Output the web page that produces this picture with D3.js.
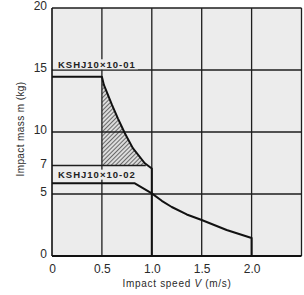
<!DOCTYPE html>
<html>
<head>
<meta charset="utf-8">
<script src="https://cdn.jsdelivr.net/npm/d3@7"></script>
<style>
  body { margin: 0; background: #fff; }
  svg text { font-family: "Liberation Sans", Arial, sans-serif; }
</style>
</head>
<body>
<div id="chart"></div>
<script>
// Data
var xTicks = [0, 0.5, 1.0, 1.5, 2.0];
var xTickLabels = ['0', '0.5', '1.0', '1.5', '2.0'];
var yTicks = [0, 5, 7.3, 10, 15, 20];
var yTickLabels = ['0', '5', '7', '10', '15', '20'];
var xGrid = [0.5, 1.0, 1.5, 2.0, 2.5];
var yGrid = [5, 10, 15, 20];

// KSHJ10x10-01 : speed (m/s), mass (kg)
var speed01 = [0, 0.5, 0.52, 0.6, 0.66, 0.73, 0.81, 0.93, 1.0, 1.0];
var mass01  = [14.46, 14.46, 13.8, 12.2, 11.1, 9.9, 8.7, 7.48, 7.05, 0];
// KSHJ10x10-02
var speed02 = [0, 0.83, 1.0, 1.1, 1.2, 1.35, 1.5, 1.75, 2.0, 2.0];
var mass02  = [5.86, 5.86, 5.05, 4.45, 3.95, 3.35, 2.9, 2.1, 1.45, 0];

var hatchFloor = 7.3;   // lower edge of the shaded area ("7" line)
var labels = ['KSHJ10\u00d710-01', 'KSHJ10\u00d710-02'];
var labelMass = [15.3, 6.4];

var width = 304, height = 295;
var margin = {left: 52, right: 2.5, top: 8, bottom: 39};

var svg = d3.select('#chart').append('svg')
  .attr('width', width).attr('height', height);

var x = d3.scaleLinear().domain([0, 2.5]).range([margin.left, width - margin.right]);
var y = d3.scaleLinear().domain([0, 20]).range([height - margin.bottom, margin.top]);

var gridColor = '#1e1e1e';
var bg = '#ececec';

//Plot background
svg.append('rect')
  .attr('x', x(0)).attr('y', y(20))
  .attr('width', x(2.5) - x(0)).attr('height', y(0) - y(20))
  .attr('fill', bg);

//Hatch pattern
var defs = svg.append('defs');
var pat = defs.append('pattern').attr('id', 'hatch')
  .attr('patternUnits', 'userSpaceOnUse')
  .attr('width', 3).attr('height', 3)
  .attr('patternTransform', 'rotate(45)');
pat.append('rect').attr('width', 3).attr('height', 3).attr('fill', '#dcdcdc');
pat.append('line').attr('x1', 0).attr('y1', 0).attr('x2', 0).attr('y2', 3)
  .attr('stroke', '#2a2a2a').attr('stroke-width', 1.3);

var curve01 = speed01.map(function(s, i){ return {v: s, m: mass01[i]}; });
var curve02 = speed02.map(function(s, i){ return {v: s, m: mass02[i]}; });

var hatchPts = curve01.filter(function(d){ return d.v >= 0.5 && d.v < 1.0; });
var area = d3.area()
  .x(function(d){ return x(d.v); })
  .y0(y(hatchFloor))
  .y1(function(d){ return y(Math.max(d.m, hatchFloor)); });
svg.append('path').datum(hatchPts).attr('d', area).attr('fill', 'url(#hatch)');

//Grid
svg.selectAll('.vgrid').data(xGrid).enter().append('line')
  .attr('x1', function(d){ return x(d); }).attr('x2', function(d){ return x(d); })
  .attr('y1', y(0)).attr('y2', y(20))
  .attr('stroke', gridColor).attr('stroke-width', 1.3);
svg.selectAll('.hgrid').data(yGrid).enter().append('line')
  .attr('x1', x(0)).attr('x2', x(2.5))
  .attr('y1', function(d){ return y(d); }).attr('y2', function(d){ return y(d); })
  .attr('stroke', gridColor).attr('stroke-width', 1.3);
//"7" line
svg.append('line')
  .attr('x1', x(0)).attr('x2', x(0.94))
  .attr('y1', y(hatchFloor)).attr('y2', y(hatchFloor))
  .attr('stroke', gridColor).attr('stroke-width', 1.3);

//Axes lines
svg.append('line').attr('x1', x(0)).attr('x2', x(0)).attr('y1', y(0)).attr('y2', y(20))
  .attr('stroke', '#111').attr('stroke-width', 1.6);
svg.append('line').attr('x1', x(0)).attr('x2', x(2.5)).attr('y1', y(0)).attr('y2', y(0))
  .attr('stroke', '#111').attr('stroke-width', 2);

//Curves
var line = d3.line().x(function(d){ return x(d.v); }).y(function(d){ return y(d.m); });
[curve01, curve02].forEach(function(c){
  svg.append('path').datum(c).attr('d', line)
    .attr('fill', 'none').attr('stroke', '#111').attr('stroke-width', 2)
    .attr('stroke-linejoin', 'round');
});

//Series labels
labels.forEach(function(t, i){
  var ty = y(labelMass[i]);
  svg.append('rect').attr('x', x(0) + 1).attr('y', ty - 7)
    .attr('width', 85).attr('height', 10).attr('fill', bg);
  svg.append('text').attr('x', x(0) + 6).attr('y', ty + 1.5)
    .attr('font-size', 9.5).attr('font-weight', 'bold')
    .attr('letter-spacing', 1.0).attr('fill', '#222')
    .text(t);
});

//Tick labels
var xAxis = d3.axisBottom(x).tickValues(xTicks).tickSize(0).tickPadding(8)
  .tickFormat(function(d, i){ return xTickLabels[i]; });
var gx = svg.append('g').attr('transform', 'translate(0,' + y(0) + ')').call(xAxis);
gx.select('.domain').remove();
gx.selectAll('text').attr('font-size', 12).attr('fill', '#2a2a2a')
  .style('font-family', '"Liberation Sans", Arial, sans-serif');

var yAxis = d3.axisLeft(y).tickValues(yTicks).tickSize(0).tickPadding(5)
  .tickFormat(function(d, i){ return yTickLabels[i]; });
var gy = svg.append('g').attr('transform', 'translate(' + x(0) + ',0)').call(yAxis);
gy.select('.domain').remove();
gy.selectAll('text').attr('font-size', 12).attr('fill', '#2a2a2a').attr('dy', '0.15em')
  .style('font-family', '"Liberation Sans", Arial, sans-serif');

//Axis titles
var xt = svg.append('text').attr('x', 177).attr('y', 287)
  .attr('text-anchor', 'middle').attr('font-size', 10).attr('fill', '#2a2a2a')
  .attr('letter-spacing', 0.7);
xt.append('tspan').text('Impact speed ');
xt.append('tspan').attr('font-style', 'italic').text('V');
xt.append('tspan').text(' (m/s)');

svg.append('text').attr('transform', 'translate(24,129) rotate(-90)')
  .attr('text-anchor', 'middle').attr('font-size', 10).attr('fill', '#2a2a2a')
  .attr('letter-spacing', 0.4)
  .text('Impact mass m (kg)');
</script>
</body>
</html>
